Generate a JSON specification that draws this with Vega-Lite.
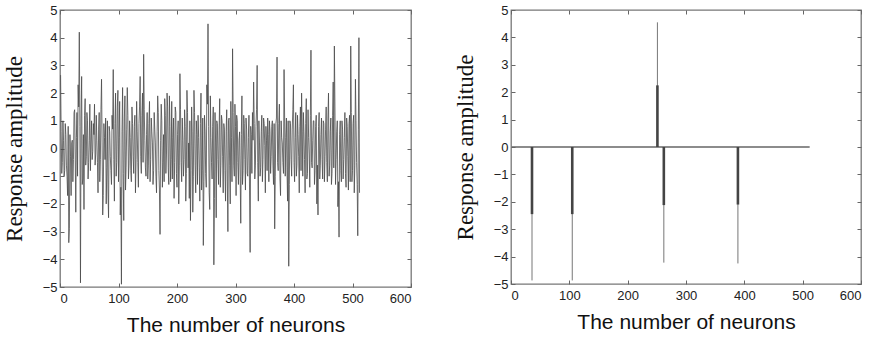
{
  "$schema": "https://vega.github.io/schema/vega-lite/v6.json",
  "background": "white",
  "padding": {"left": 2, "top": 3, "right": 0, "bottom": 0},
  "spacing": 40,
  "config": {
    "view": {"stroke": "#777", "strokeWidth": 1.3},
    "axis": {"grid": false, "domain": false, "labelFont": "Liberation Sans", "labelFontSize": 13, "labelColor": "#222", "tickColor": "#666", "tickSize": -4, "labelPadding": 7, "titleColor": "#111", "titleFontWeight": "normal"},
    "axisX": {"titleFont": "Liberation Sans", "titleFontSize": 21, "titlePadding": 9, "labelPadding": 9},
    "axisY": {"titleFont": "Liberation Serif", "titleFontSize": 23, "titlePadding": 16}
  },
  "datasets": {
    "dense": [
      {"n":1,"amp":2.65},{"n":3,"amp":-0.9},{"n":5,"amp":1.0},{"n":7,"amp":-1.0},{"n":9,"amp":0.9},{"n":11,"amp":-0.6},{"n":13,"amp":-1.7},{"n":15,"amp":-3.4},{"n":17,"amp":0.5},{"n":19,"amp":-1.7},{"n":21,"amp":0.3},{"n":23,"amp":-0.4},{"n":25,"amp":1.4},{"n":27,"amp":-2.3},{"n":29,"amp":1.3},{"n":31,"amp":2.3},
      {"n":33,"amp":4.2},{"n":35,"amp":-4.85},{"n":37,"amp":2.6},{"n":39,"amp":-1.1},{"n":41,"amp":-2.2},{"n":43,"amp":1.8},{"n":45,"amp":-0.3},{"n":47,"amp":1.0},{"n":49,"amp":-0.5},{"n":51,"amp":1.6},{"n":53,"amp":0.2},{"n":55,"amp":-0.4},{"n":57,"amp":0.9},{"n":59,"amp":1.6},{"n":61,"amp":-0.2},{"n":63,"amp":0.3},
      {"n":65,"amp":-1.6},{"n":67,"amp":1.3},{"n":69,"amp":-0.4},{"n":71,"amp":2.5},{"n":73,"amp":-2.4},{"n":75,"amp":0.9},{"n":77,"amp":-0.4},{"n":79,"amp":-2.0},{"n":81,"amp":1.0},{"n":83,"amp":-2.5},{"n":85,"amp":0.6},{"n":87,"amp":-0.8},{"n":89,"amp":1.2},{"n":91,"amp":2.85},{"n":93,"amp":-1.9},{"n":95,"amp":2.0},
      {"n":97,"amp":-0.5},{"n":99,"amp":2.1},{"n":101,"amp":0.4},{"n":103,"amp":-2.4},{"n":105,"amp":-4.9},{"n":107,"amp":2.2},{"n":109,"amp":-2.6},{"n":111,"amp":1.9},{"n":113,"amp":-0.7},{"n":115,"amp":2.2},{"n":117,"amp":-1.1},{"n":119,"amp":1.0},{"n":121,"amp":-0.8},{"n":123,"amp":1.5},{"n":125,"amp":-0.3},{"n":127,"amp":0.8},
      {"n":129,"amp":-1.6},{"n":131,"amp":1.7},{"n":133,"amp":-0.5},{"n":135,"amp":0.9},{"n":137,"amp":2.6},{"n":139,"amp":-0.9},{"n":141,"amp":2.0},{"n":143,"amp":3.4},{"n":145,"amp":0.3},{"n":147,"amp":-1.0},{"n":149,"amp":1.3},{"n":151,"amp":-0.6},{"n":153,"amp":1.7},{"n":155,"amp":-0.4},{"n":157,"amp":0.6},{"n":159,"amp":-1.3},
      {"n":161,"amp":1.3},{"n":163,"amp":0.2},{"n":165,"amp":-1.6},{"n":167,"amp":1.9},{"n":169,"amp":-0.8},{"n":171,"amp":-3.1},{"n":173,"amp":1.6},{"n":175,"amp":-1.4},{"n":177,"amp":0.5},{"n":179,"amp":1.8},{"n":181,"amp":-0.9},{"n":183,"amp":2.0},{"n":185,"amp":-0.7},{"n":187,"amp":1.9},{"n":189,"amp":-1.2},{"n":191,"amp":1.7},
      {"n":193,"amp":0.4},{"n":195,"amp":-1.8},{"n":197,"amp":1.5},{"n":199,"amp":-0.9},{"n":201,"amp":0.5},{"n":203,"amp":-2.0},{"n":205,"amp":2.7},{"n":207,"amp":-0.5},{"n":209,"amp":1.1},{"n":211,"amp":-1.0},{"n":213,"amp":1.4},{"n":215,"amp":-1.9},{"n":217,"amp":2.1},{"n":219,"amp":-0.7},{"n":221,"amp":-1.8},{"n":223,"amp":-2.6},
      {"n":225,"amp":1.5},{"n":227,"amp":-2.3},{"n":229,"amp":2.1},{"n":231,"amp":-0.6},{"n":233,"amp":1.0},{"n":235,"amp":-1.3},{"n":237,"amp":0.4},{"n":239,"amp":-1.9},{"n":241,"amp":2.0},{"n":243,"amp":-0.8},{"n":245,"amp":-3.5},{"n":247,"amp":1.2},{"n":249,"amp":-0.9},{"n":251,"amp":2.3},{"n":253,"amp":4.5},{"n":255,"amp":-1.6},
      {"n":257,"amp":1.9},{"n":259,"amp":-0.5},{"n":261,"amp":0.8},{"n":263,"amp":-4.2},{"n":265,"amp":1.3},{"n":267,"amp":-2.5},{"n":269,"amp":0.9},{"n":271,"amp":-1.3},{"n":273,"amp":1.8},{"n":275,"amp":-0.6},{"n":277,"amp":1.0},{"n":279,"amp":-1.6},{"n":281,"amp":0.7},{"n":283,"amp":-1.9},{"n":285,"amp":1.4},{"n":287,"amp":-3.0},
      {"n":289,"amp":1.1},{"n":291,"amp":-2.0},{"n":293,"amp":0.4},{"n":295,"amp":3.6},{"n":297,"amp":-0.6},{"n":299,"amp":1.6},{"n":301,"amp":-1.7},{"n":303,"amp":1.0},{"n":305,"amp":-1.3},{"n":307,"amp":0.6},{"n":309,"amp":-2.7},{"n":311,"amp":1.9},{"n":313,"amp":-0.8},{"n":315,"amp":0.9},{"n":317,"amp":-1.5},{"n":319,"amp":0.7},
      {"n":321,"amp":-1.0},{"n":323,"amp":1.2},{"n":325,"amp":-3.75},{"n":327,"amp":0.5},{"n":329,"amp":1.3},{"n":331,"amp":2.4},{"n":333,"amp":-1.1},{"n":335,"amp":0.8},{"n":337,"amp":3.0},{"n":339,"amp":-1.9},{"n":341,"amp":0.2},{"n":343,"amp":-0.7},{"n":345,"amp":1.2},{"n":347,"amp":-0.4},{"n":349,"amp":0.9},{"n":351,"amp":-1.6},
      {"n":353,"amp":0.3},{"n":355,"amp":1.1},{"n":357,"amp":-1.2},{"n":359,"amp":0.6},{"n":361,"amp":-0.3},{"n":363,"amp":1.0},{"n":365,"amp":-1.3},{"n":367,"amp":-2.9},{"n":369,"amp":0.9},{"n":371,"amp":3.3},{"n":373,"amp":-0.8},{"n":375,"amp":1.6},{"n":377,"amp":-1.7},{"n":379,"amp":0.4},{"n":381,"amp":-0.5},{"n":383,"amp":2.85},
      {"n":385,"amp":-1.0},{"n":387,"amp":1.1},{"n":389,"amp":-1.9},{"n":391,"amp":-4.25},{"n":393,"amp":1.0},{"n":395,"amp":-0.4},{"n":397,"amp":0.7},{"n":399,"amp":2.3},{"n":401,"amp":-1.2},{"n":403,"amp":1.3},{"n":405,"amp":-0.6},{"n":407,"amp":0.5},{"n":409,"amp":-1.6},{"n":411,"amp":1.5},{"n":413,"amp":2.0},{"n":415,"amp":-1.0},
      {"n":417,"amp":0.6},{"n":419,"amp":-1.6},{"n":421,"amp":1.8},{"n":423,"amp":-0.9},{"n":425,"amp":0.4},{"n":427,"amp":-1.4},{"n":429,"amp":3.55},{"n":431,"amp":-0.7},{"n":433,"amp":1.0},{"n":435,"amp":-1.3},{"n":437,"amp":0.8},{"n":439,"amp":-2.0},{"n":441,"amp":-2.4},{"n":443,"amp":1.3},{"n":445,"amp":-0.6},{"n":447,"amp":1.1},
      {"n":449,"amp":-1.1},{"n":451,"amp":0.9},{"n":453,"amp":-0.3},{"n":455,"amp":1.5},{"n":457,"amp":-1.2},{"n":459,"amp":2.0},{"n":461,"amp":-0.6},{"n":463,"amp":1.1},{"n":465,"amp":-0.9},{"n":467,"amp":2.4},{"n":469,"amp":3.7},{"n":471,"amp":-1.3},{"n":473,"amp":0.6},{"n":475,"amp":-2.1},{"n":477,"amp":-3.2},{"n":479,"amp":1.0},
      {"n":481,"amp":-1.2},{"n":483,"amp":0.7},{"n":485,"amp":-0.4},{"n":487,"amp":1.3},{"n":489,"amp":-1.4},{"n":491,"amp":0.8},{"n":493,"amp":-1.5},{"n":495,"amp":1.2},{"n":497,"amp":3.7},{"n":499,"amp":-1.2},{"n":501,"amp":0.9},{"n":503,"amp":-1.6},{"n":505,"amp":2.5},{"n":507,"amp":-0.5},{"n":509,"amp":-3.15},{"n":511,"amp":4.0},
      {"n":2,"amp":0.6},{"n":4,"amp":-0.5},{"n":6,"amp":0.3},{"n":8,"amp":-0.8},{"n":10,"amp":0.5},{"n":12,"amp":-1.0},{"n":14,"amp":0.8},{"n":16,"amp":-2.9},{"n":18,"amp":-0.3},{"n":20,"amp":0.2},{"n":22,"amp":-1.2},{"n":24,"amp":1.3},{"n":26,"amp":-0.2},{"n":28,"amp":0.4},{"n":30,"amp":-1.0},{"n":32,"amp":1.5},
      {"n":34,"amp":0.8},{"n":36,"amp":1.1},{"n":38,"amp":-1.3},{"n":40,"amp":0.5},{"n":42,"amp":1.2},{"n":44,"amp":-0.6},{"n":46,"amp":1.3},{"n":48,"amp":-1.1},{"n":50,"amp":0.3},{"n":52,"amp":-0.8},{"n":54,"amp":1.0},{"n":56,"amp":-0.1},{"n":58,"amp":0.5},{"n":60,"amp":-0.6},{"n":62,"amp":1.2},{"n":64,"amp":-0.5},
      {"n":66,"amp":0.7},{"n":68,"amp":-1.2},{"n":70,"amp":1.4},{"n":72,"amp":0.2},{"n":74,"amp":-1.7},{"n":76,"amp":0.4},{"n":78,"amp":1.1},{"n":80,"amp":-0.7},{"n":82,"amp":-1.5},{"n":84,"amp":0.8},{"n":86,"amp":-0.3},{"n":88,"amp":-1.3},{"n":90,"amp":0.7},{"n":92,"amp":-0.4},{"n":94,"amp":0.9},{"n":96,"amp":-1.0},
      {"n":98,"amp":1.5},{"n":100,"amp":-1.2},{"n":102,"amp":1.7},{"n":104,"amp":-1.4},{"n":106,"amp":0.6},{"n":108,"amp":-0.9},{"n":110,"amp":1.1},{"n":112,"amp":-1.5},{"n":114,"amp":0.7},{"n":116,"amp":1.2},{"n":118,"amp":-0.6},{"n":120,"amp":0.4},{"n":122,"amp":-1.2},{"n":124,"amp":0.9},{"n":126,"amp":-0.9},{"n":128,"amp":1.2},
      {"n":130,"amp":-0.4},{"n":132,"amp":0.6},{"n":134,"amp":-1.4},{"n":136,"amp":1.5},{"n":138,"amp":-0.3},{"n":140,"amp":1.2},{"n":142,"amp":-0.5},{"n":144,"amp":1.4},{"n":146,"amp":-0.7},{"n":148,"amp":0.5},{"n":150,"amp":-1.1},{"n":152,"amp":0.9},{"n":154,"amp":-1.2},{"n":156,"amp":1.1},{"n":158,"amp":0.2},{"n":160,"amp":-0.8},
      {"n":162,"amp":0.7},{"n":164,"amp":-1.0},{"n":166,"amp":0.6},{"n":168,"amp":1.3},{"n":170,"amp":-1.5},{"n":172,"amp":0.3},{"n":174,"amp":1.0},{"n":176,"amp":-0.5},{"n":178,"amp":-1.2},{"n":180,"amp":1.2},{"n":182,"amp":-0.2},{"n":184,"amp":1.5},{"n":186,"amp":-1.3},{"n":188,"amp":0.8},{"n":190,"amp":-0.4},{"n":192,"amp":-1.1},
      {"n":194,"amp":1.1},{"n":196,"amp":-0.5},{"n":198,"amp":1.3},{"n":200,"amp":-1.4},{"n":202,"amp":1.0},{"n":204,"amp":-0.6},{"n":206,"amp":1.4},{"n":208,"amp":-1.2},{"n":210,"amp":0.3},{"n":212,"amp":-0.4},{"n":214,"amp":0.8},{"n":216,"amp":-0.9},{"n":218,"amp":1.3},{"n":220,"amp":0.2},{"n":222,"amp":1.0},{"n":224,"amp":-0.8},
      {"n":226,"amp":0.6},{"n":228,"amp":-1.0},{"n":230,"amp":1.3},{"n":232,"amp":-1.6},{"n":234,"amp":0.5},{"n":236,"amp":1.2},{"n":238,"amp":-0.7},{"n":240,"amp":0.9},{"n":242,"amp":-1.5},{"n":244,"amp":1.1},{"n":246,"amp":-1.2},{"n":248,"amp":0.6},{"n":250,"amp":-1.4},{"n":252,"amp":1.6},{"n":254,"amp":0.8},{"n":256,"amp":-2.2},
      {"n":258,"amp":0.4},{"n":260,"amp":-1.1},{"n":262,"amp":1.5},{"n":264,"amp":-1.8},{"n":266,"amp":0.2},{"n":268,"amp":1.0},{"n":270,"amp":-0.4},{"n":272,"amp":0.7},{"n":274,"amp":-1.4},{"n":276,"amp":1.2},{"n":278,"amp":-0.3},{"n":280,"amp":0.9},{"n":282,"amp":-0.8},{"n":284,"amp":0.6},{"n":286,"amp":-1.1},{"n":288,"amp":1.0},
      {"n":290,"amp":-0.6},{"n":292,"amp":1.7},{"n":294,"amp":-1.2},{"n":296,"amp":1.3},{"n":298,"amp":-1.0},{"n":300,"amp":0.8},{"n":302,"amp":1.2},{"n":304,"amp":-0.5},{"n":306,"amp":0.3},{"n":308,"amp":-1.0},{"n":310,"amp":0.5},{"n":312,"amp":-1.3},{"n":314,"amp":1.2},{"n":316,"amp":-0.4},{"n":318,"amp":1.1},{"n":320,"amp":-0.9},
      {"n":322,"amp":0.4},{"n":324,"amp":-1.5},{"n":326,"amp":0.8},{"n":328,"amp":-0.9},{"n":330,"amp":0.3},{"n":332,"amp":0.9},{"n":334,"amp":-0.6},{"n":336,"amp":1.4},{"n":338,"amp":-0.5},{"n":340,"amp":1.0},{"n":342,"amp":-1.0},{"n":344,"amp":0.6},{"n":346,"amp":-1.2},{"n":348,"amp":1.1},{"n":350,"amp":0.1},{"n":352,"amp":0.8},
      {"n":354,"amp":-0.8},{"n":356,"amp":0.5},{"n":358,"amp":1.0},{"n":360,"amp":-0.9},{"n":362,"amp":0.8},{"n":364,"amp":-0.6},{"n":366,"amp":0.9},{"n":368,"amp":-1.0},{"n":370,"amp":1.1},{"n":372,"amp":-0.5},{"n":374,"amp":0.9},{"n":376,"amp":-1.1},{"n":378,"amp":1.0},{"n":380,"amp":0.2},{"n":382,"amp":-0.9},{"n":384,"amp":1.1},
      {"n":386,"amp":0.4},{"n":388,"amp":-0.7},{"n":390,"amp":1.0},{"n":392,"amp":-1.3},{"n":394,"amp":0.9},{"n":396,"amp":-1.0},{"n":398,"amp":1.4},{"n":400,"amp":-0.5},{"n":402,"amp":0.4},{"n":404,"amp":-1.0},{"n":406,"amp":1.2},{"n":408,"amp":-0.3},{"n":410,"amp":0.8},{"n":412,"amp":-0.8},{"n":414,"amp":0.6},{"n":416,"amp":1.3},
      {"n":418,"amp":-0.4},{"n":420,"amp":0.9},{"n":422,"amp":-1.1},{"n":424,"amp":1.4},{"n":426,"amp":-0.2},{"n":428,"amp":1.2},{"n":430,"amp":-0.5},{"n":432,"amp":0.3},{"n":434,"amp":1.0},{"n":436,"amp":-0.8},{"n":438,"amp":1.2},{"n":440,"amp":-0.6},{"n":442,"amp":0.8},{"n":444,"amp":-1.1},{"n":446,"amp":0.5},{"n":448,"amp":-0.4},
      {"n":450,"amp":1.0},{"n":452,"amp":-1.2},{"n":454,"amp":0.7},{"n":456,"amp":-0.5},{"n":458,"amp":1.1},{"n":460,"amp":-1.0},{"n":462,"amp":0.6},{"n":464,"amp":-1.3},{"n":466,"amp":1.2},{"n":468,"amp":-0.7},{"n":470,"amp":1.5},{"n":472,"amp":-0.4},{"n":474,"amp":1.0},{"n":476,"amp":-1.2},{"n":478,"amp":0.5},{"n":480,"amp":-0.8},
      {"n":482,"amp":1.0},{"n":484,"amp":-1.1},{"n":486,"amp":0.4},{"n":488,"amp":-0.9},{"n":490,"amp":1.1},{"n":492,"amp":-0.3},{"n":494,"amp":0.9},{"n":496,"amp":-1.2},{"n":498,"amp":1.3},{"n":500,"amp":-0.8},{"n":502,"amp":1.2},{"n":504,"amp":-0.6},{"n":506,"amp":1.0},{"n":508,"amp":-1.3},{"n":510,"amp":0.7},{"n":512,"amp":-1.6}
    ],
    "zero": [{"n":1,"amp":0},{"n":512,"amp":0}],
    "spikes": [
      {"n":36,"amp":-4.87,"core":-2.45},
      {"n":105,"amp":-4.87,"core":-2.45},
      {"n":251,"amp":4.55,"core":2.25},
      {"n":262,"amp":-4.22,"core":-2.12},
      {"n":389,"amp":-4.25,"core":-2.1}
    ]
  },
  "hconcat": [
    {
      "width": 351, "height": 277,
      "layer": [
        {
          "data": {"name": "dense"},
          "mark": {"type": "line", "color": "#4a4a4a", "strokeWidth": 0.8},
          "encoding": {
            "x": {"field": "n", "type": "quantitative", "scale": {"domain": [0, 600], "nice": false}, "axis": {"title": "The number of neurons", "values": [0,100,200,300,400,500,600]}},
            "y": {"field": "amp", "type": "quantitative", "scale": {"domain": [-5, 5], "nice": false}, "axis": {"title": "Response amplitude", "values": [-5,-4,-3,-2,-1,0,1,2,3,4,5]}}
          }
        },
        {
          "data": {"name": "zero"},
          "mark": {"type": "point", "opacity": 0},
          "encoding": {
            "x": {"field": "n", "type": "quantitative", "scale": {"domain": [0, 600], "nice": false}, "axis": {"orient": "top", "labels": false, "title": null, "values": [0,100,200,300,400,500,600]}},
            "y": {"field": "amp", "type": "quantitative", "scale": {"domain": [-5, 5], "nice": false}, "axis": {"orient": "right", "labels": false, "title": null, "values": [-5,-4,-3,-2,-1,0,1,2,3,4,5]}}
          }
        }
      ],
      "resolve": {"axis": {"x": "independent", "y": "independent"}}
    },
    {
      "width": 350, "height": 274,
      "layer": [
        {
          "data": {"name": "zero"},
          "mark": {"type": "line", "color": "#666", "strokeWidth": 1.3},
          "encoding": {
            "x": {"field": "n", "type": "quantitative", "scale": {"domain": [0, 600], "nice": false}, "axis": {"title": "The number of neurons", "values": [0,100,200,300,400,500,600]}},
            "y": {"field": "amp", "type": "quantitative", "scale": {"domain": [-5, 5], "nice": false}, "axis": {"title": "Response amplitude", "values": [-5,-4,-3,-2,-1,0,1,2,3,4,5]}}
          }
        },
        {
          "data": {"name": "spikes"},
          "mark": {"type": "rule", "color": "#777", "strokeWidth": 1},
          "encoding": {
            "x": {"field": "n", "type": "quantitative", "axis": null},
            "y": {"field": "amp", "type": "quantitative", "axis": null},
            "y2": {"datum": 0}
          }
        },
        {
          "data": {"name": "spikes"},
          "mark": {"type": "rule", "color": "#444", "strokeWidth": 2.6},
          "encoding": {
            "x": {"field": "n", "type": "quantitative", "axis": null},
            "y": {"field": "core", "type": "quantitative", "axis": null},
            "y2": {"datum": 0}
          }
        },
        {
          "data": {"name": "zero"},
          "mark": {"type": "point", "opacity": 0},
          "encoding": {
            "x": {"field": "n", "type": "quantitative", "scale": {"domain": [0, 600], "nice": false}, "axis": {"orient": "top", "labels": false, "title": null, "values": [0,100,200,300,400,500,600]}},
            "y": {"field": "amp", "type": "quantitative", "scale": {"domain": [-5, 5], "nice": false}, "axis": {"orient": "right", "labels": false, "title": null, "values": [-5,-4,-3,-2,-1,0,1,2,3,4,5]}}
          }
        }
      ],
      "resolve": {"axis": {"x": "independent", "y": "independent"}}
    }
  ]
}
